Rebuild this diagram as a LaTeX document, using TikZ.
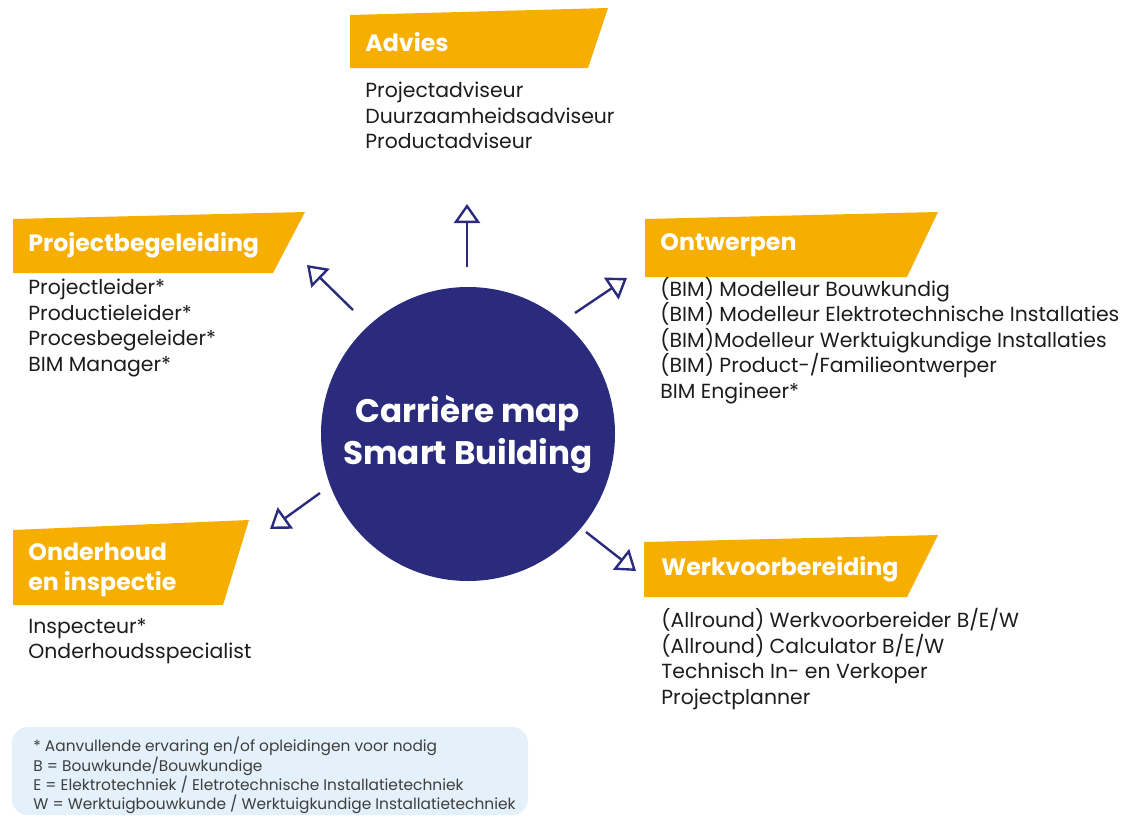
\documentclass[tikz,border=0pt]{standalone}
\usepackage{fontspec}
\setmainfont{Poppins}
\usetikzlibrary{arrows.meta}

\definecolor{navy}{RGB}{43,43,125}
\definecolor{gold}{RGB}{246,174,0}
\definecolor{ink}{RGB}{28,28,28}
\definecolor{pale}{RGB}{228,240,250}

\tikzset{
    banner/.style={fill=gold},
    head/.style={anchor=west, text=white, inner sep=0pt, align=left,
        font=\bfseries\fontsize{11.85}{15}\selectfont},
    jobs/.style={anchor=north west, text=ink, inner sep=0pt, align=left,
        font=\fontsize{10.2}{12.75}\selectfont},
    legend/.style={anchor=north west, text=ink!85, inner sep=0pt, align=left,
        font=\fontsize{7.7}{9.65}\selectfont},
    pijl/.style={draw=navy, line width=1.2pt,
        -{Triangle[open, length=9.5pt, width=13pt]}},
}

\begin{document}
\begin{tikzpicture}[x=0.5pt,y=-0.5pt]
    \useasboundingbox (0,0) rectangle (1135,819);

    % centre
    \node[circle, fill=navy, minimum size=147pt, inner sep=0pt, text=white, align=center,
        font=\bfseries\fontsize{16.3}{21}\selectfont] (hub) at (468,434) {Carrière map\\Smart Building};

    % Advies
    \fill[banner] (350,15) -- (608,8) -- (588,68) -- (350,68) -- cycle;
    \node[head] (advies) at (365,42) {Advies};
    \node[jobs] (adviesJobs) at (365,82) {Projectadviseur\\Duurzaamheidsadviseur\\Productadviseur};

    % Projectbegeleiding
    \fill[banner] (13,219) -- (305,212) -- (273,273) -- (13,273) -- cycle;
    \node[head] (begeleiding) at (28,245) {Projectbegeleiding};
    \node[jobs] (begeleidingJobs) at (28,279) {Projectleider*\\Productieleider*\\Procesbegeleider*\\BIM Manager*};

    % Ontwerpen
    \fill[banner] (645,219) -- (938,212) -- (907,277) -- (645,277) -- cycle;
    \node[head] (ontwerpen) at (660,245) {Ontwerpen};
    \node[jobs] (ontwerpenJobs) at (660,277) {(BIM) Modelleur Bouwkundig\\(BIM) Modelleur Elektrotechnische Installaties\\(BIM)Modelleur Werktuigkundige Installaties\\(BIM) Product-/Familieontwerper\\BIM Engineer*};

    % Onderhoud en inspectie
    \fill[banner] (13,530) -- (249,520) -- (223,605) -- (13,605) -- cycle;
    \node[head] (onderhoud) at (28,570) {Onderhoud\\en inspectie};
    \node[jobs] (onderhoudJobs) at (28,618) {Inspecteur*\\Onderhoudsspecialist};

    % Werkvoorbereiding
    \fill[banner] (644,542) -- (938,535) -- (907,597) -- (644,597) -- cycle;
    \node[head] (werkvoorbereiding) at (661,569) {Werkvoorbereiding};
    \node[jobs] (werkJobs) at (661,608) {(Allround) Werkvoorbereider B/E/W\\(Allround) Calculator B/E/W\\Technisch In- en Verkoper\\Projectplanner};

    % pijlen
    \coordinate (adviesTail) at (467,267);
    \coordinate (adviesTip) at (467,204);
    \coordinate (begeleidingTail) at (353,310);
    \coordinate (begeleidingTip) at (307,265);
    \coordinate (ontwerpenTail) at (575,313);
    \coordinate (ontwerpenTip) at (627,278);
    \coordinate (onderhoudTail) at (320,493);
    \coordinate (onderhoudTip) at (270,529);
    \coordinate (werkTail) at (586,532);
    \coordinate (werkTip) at (636,571);

    \draw[pijl] (adviesTail) -- (adviesTip);
    \draw[pijl] (begeleidingTail) -- (begeleidingTip);
    \draw[pijl] (ontwerpenTail) -- (ontwerpenTip);
    \draw[pijl] (onderhoudTail) -- (onderhoudTip);
    \draw[pijl] (werkTail) -- (werkTip);

    % legenda
    \fill[pale, rounded corners=8pt] (12,727) rectangle (528,815);
    \node[legend] (legenda) at (33,737) {* Aanvullende ervaring en/of opleidingen voor nodig\\B = Bouwkunde/Bouwkundige\\E = Elektrotechniek / Eletrotechnische Installatietechniek\\W = Werktuigbouwkunde / Werktuigkundige Installatietechniek};

\end{tikzpicture}
\end{document}
